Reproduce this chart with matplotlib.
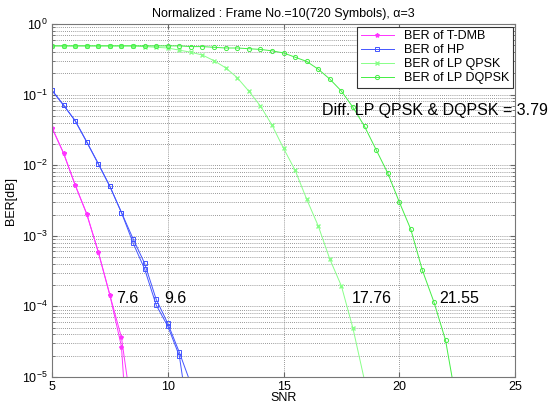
import matplotlib
matplotlib.use("Agg")
import matplotlib.pyplot as plt
import numpy as np

plt.rcParams['font.family'] = ['Liberation Sans', 'DejaVu Sans']
plt.rcParams['mathtext.fontset'] = 'custom'
plt.rcParams['mathtext.rm'] = 'Liberation Sans'

# SNR grids (0.5 dB steps)
snr_tdmb = [5.0, 5.5, 6.0, 6.5, 7.0, 7.5, 8.0, 8.5]
snr_hp = [5.0, 5.5, 6.0, 6.5, 7.0, 7.5, 8.0, 8.5, 9.0, 9.5, 10.0, 10.5, 11.0]
snr_lp = [5.0, 5.5, 6.0, 6.5, 7.0, 7.5, 8.0, 8.5, 9.0, 9.5, 10.0, 10.5, 11.0,
          11.5, 12.0, 12.5, 13.0, 13.5, 14.0, 14.5, 15.0, 15.5, 16.0, 16.5,
          17.0, 17.5, 18.0, 18.5, 19.0, 19.5, 20.0, 20.5, 21.0, 21.5, 22.0, 22.5]

# log10(BER)
log_tdmb = [-1.47, -1.83, -2.28, -2.69, -3.23, -3.84, -4.44, -5.6]
log_tdmb_b = [-1.47, -1.83, -2.28, -2.69, -3.23, -3.84, -4.57, -7.0]
log_hp = [-0.94, -1.15, -1.37, -1.67, -1.98, -2.30, -2.67, -3.04, -3.39,
          -3.90, -4.24, -4.65, -5.1]
log_hp_b = [-0.94, -1.15, -1.37, -1.67, -1.98, -2.30, -2.67, -3.10, -3.47,
            -3.98, -4.28, -4.70, -5.8]
log_qpsk = [-0.31, -0.31, -0.31, -0.31, -0.31, -0.31, -0.31, -0.31, -0.32,
            -0.33, -0.34, -0.37, -0.40, -0.44, -0.52, -0.62, -0.76, -0.95,
            -1.16, -1.43, -1.76, -2.07, -2.48, -2.86, -3.33, -3.71, -4.31,
            -5.05, -6.0, -7.0, -8.0, -9.0, -10.0, -11.0, -12.0, -13.0]
log_dqpsk = [-0.31, -0.31, -0.31, -0.31, -0.31, -0.31, -0.31, -0.31, -0.31,
             -0.31, -0.31, -0.31, -0.32, -0.32, -0.33, -0.34, -0.34, -0.35,
             -0.36, -0.38, -0.41, -0.47, -0.53, -0.64, -0.78, -0.95, -1.18,
             -1.45, -1.78, -2.11, -2.52, -2.91, -3.49, -3.94, -4.48, -5.41]

labels = ['BER of T-DMB', 'BER of HP', 'BER of LP QPSK', 'BER of LP DQPSK']
thresholds = ['7.6', '9.6', '17.76', '21.55']
thr_pos = [(7.78, 1.3e-4), (9.85, 1.3e-4), (17.95, 1.3e-4), (21.74, 1.3e-4)]
diff_text = 'Diff. LP QPSK & DQPSK = 3.79'

c_tdmb = '#ff33ff'
c_hp = '#4455ff'
c_qpsk = '#88ff88'
c_dqpsk = '#44ee44'

fig = plt.figure(figsize=(5.57, 4.05), dpi=100)
ax = fig.add_axes([52 / 557, 1 - 377 / 405, 463 / 557, 353 / 405])

def p(v):
    return 10.0 ** np.array(v)

ax.semilogy(snr_tdmb, p(log_tdmb), color=c_tdmb, marker='*', ms=3, lw=0.7,
            label=labels[0])
ax.semilogy(snr_tdmb, p(log_tdmb_b), color=c_tdmb, marker='*', ms=3, lw=0.7)
ax.semilogy(snr_hp, p(log_hp), color=c_hp, marker='s', ms=3, mfc='none',
            mew=0.7, lw=0.7, label=labels[1])
ax.semilogy(snr_hp, p(log_hp_b), color=c_hp, marker='s', ms=3, mfc='none',
            mew=0.7, lw=0.7)
ax.semilogy(snr_lp, p(log_qpsk), color=c_qpsk, marker='x', ms=2.5, lw=0.7,
            label=labels[2])
ax.semilogy(snr_lp, p(log_dqpsk), color=c_dqpsk, marker='o', ms=3,
            mfc='none', mew=0.7, lw=0.7, label=labels[3])

for t, (x, y) in zip(thresholds, thr_pos):
    ax.text(x, y, t, fontsize=11.5, va='center', ha='left')
ax.text(16.68, 5.9e-2, diff_text, fontsize=11.5, va='center', ha='left')

ax.set_xlim(5, 25)
ax.set_ylim(1e-5, 1)
ax.set_xticks([5, 10, 15, 20, 25])
ax.grid(True, which='major', color='#777777', linestyle=(0, (1, 1.5)),
        linewidth=0.6)
ax.grid(True, which='minor', axis='y', color='#777777',
        linestyle=(0, (1, 1.5)), linewidth=0.6)
ax.tick_params(which='both', direction='in', labelsize=9, color='#666666',
               top=True, right=True, pad=3)
for s in ax.spines.values():
    s.set_color('#777777')

ax.set_title('Normalized : Frame No.=10(720 Symbols), α=3', fontsize=9, pad=5)
ax.set_xlabel('SNR', fontsize=9, labelpad=-1)
ax.set_ylabel('BER[dB]', fontsize=9, labelpad=4)

leg = ax.legend(loc='upper right', fontsize=9, borderaxespad=0.2,
                fancybox=False, framealpha=1, edgecolor='#333333',
                handlelength=2.6, borderpad=0.3, labelspacing=0.15)
leg.get_frame().set_linewidth(0.8)

fig.savefig('out.png', dpi=100)
